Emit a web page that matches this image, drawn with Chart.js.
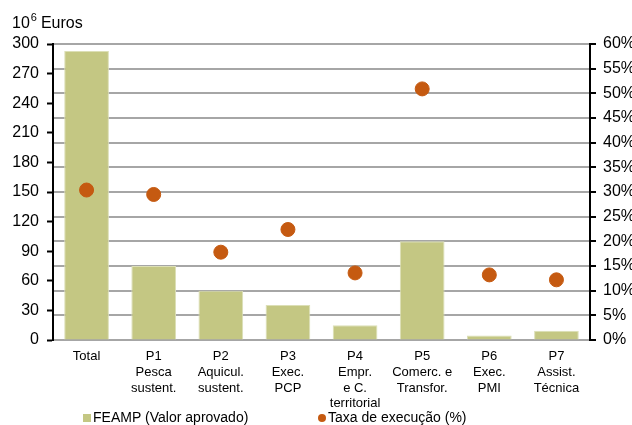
<!DOCTYPE html>
<html>
<head>
<meta charset="utf-8">
<script src="https://cdn.jsdelivr.net/npm/chart.js@4/dist/chart.umd.min.js"></script>
<style>
  html, body { margin: 0; padding: 0; background: #fff; }
  #wrap { width: 632px; height: 425px; }
</style>
</head>
<body>
<div id="wrap"><canvas id="myChart" width="632" height="425"></canvas></div>
<script>
const categories = [
  ['Total'],
  ['P1', 'Pesca', 'sustent.'],
  ['P2', 'Aquicul.', 'sustent.'],
  ['P3', 'Exec.', 'PCP'],
  ['P4', 'Empr.', 'e C.', 'territorial'],
  ['P5', 'Comerc. e', 'Transfor.'],
  ['P6', 'Exec.', 'PMI'],
  ['P7', 'Assist.', 'Técnica']
];
const valorAprovado = [293, 75, 50, 35.5, 15, 100, 4.5, 9.5];
const taxaExecucao = [30.4, 29.5, 17.8, 22.4, 13.6, 50.9, 13.2, 12.2];
const seriesNames = ['FEAMP (Valor aprovado)', 'Taxa de execução (%)'];

const narrow = '"Liberation Sans Narrow", "Arial Narrow", "Liberation Sans", Arial, sans-serif';
const regular = '"Liberation Sans", Arial, sans-serif';
const barColor = '#c4c783';
const dotColor = '#c55a11';

// title with a real superscript and the legend, drawn by hand
const extras = {
  id: 'extras',
  afterDraw(chart) {
    const ctx = chart.ctx;
    ctx.save();
    ctx.fillStyle = '#000';
    ctx.textBaseline = 'alphabetic';
    ctx.font = '16px ' + regular;
    ctx.fillText('10', 12, 28);
    let x = 12 + ctx.measureText('10').width + 1;
    ctx.font = '11px ' + regular;
    ctx.fillText('6', x, 21);
    x += ctx.measureText('6').width + 4;
    ctx.font = '16px ' + regular;
    ctx.fillText('Euros', x, 28);

    const y = 418;
    ctx.font = '14px ' + narrow;
    ctx.textBaseline = 'middle';
    ctx.fillStyle = barColor;
    ctx.fillRect(83, y - 4, 8, 8);
    ctx.fillStyle = '#000';
    ctx.fillText(seriesNames[0], 93, y);
    ctx.fillStyle = dotColor;
    ctx.beginPath();
    ctx.arc(322, y, 4, 0, Math.PI * 2);
    ctx.fill();
    ctx.fillStyle = '#000';
    ctx.fillText(seriesNames[1], 328, y);
    ctx.restore();
  }
};

new Chart(document.getElementById('myChart'), {
  type: 'bar',
  data: {
    labels: categories,
    datasets: [{
      type: 'line',
      label: seriesNames[1],
      data: taxaExecucao,
      yAxisID: 'y1',
      showLine: false,
      pointRadius: 7,
      pointHoverRadius: 7,
      pointBackgroundColor: dotColor,
      pointBorderColor: dotColor,
      order: 0
    }, {
      label: seriesNames[0],
      data: valorAprovado,
      yAxisID: 'y',
      backgroundColor: barColor,
      borderColor: '#dcdfb6',
      borderWidth: 1,
      categoryPercentage: 1,
      barPercentage: 0.666,
      order: 1
    }]
  },
  options: {
    responsive: false,
    animation: false,
    layout: { padding: { left: 12, right: 0, top: 44, bottom: 0 } },
    plugins: {
      legend: { display: false },
      tooltip: { enabled: false },
      title: { display: false }
    },
    scales: {
      x: {
        grid: { display: false, drawTicks: false },
        border: { display: true, color: '#a6a6a6', width: 2 },
        ticks: {
          color: '#000',
          autoSkip: false,
          maxRotation: 0,
          padding: 9,
          font: { family: narrow, size: 13, lineHeight: 1.2 }
        },
        afterFit(scale) { scale.height = 85; }
      },
      y: {
        position: 'left',
        min: 0,
        max: 300,
        grid: { drawOnChartArea: false, tickLength: 6, tickColor: '#000', tickWidth: 2 },
        border: { color: '#000', width: 2 },
        ticks: {
          stepSize: 30,
          color: '#000',
          padding: 8,
          font: { family: regular, size: 16 }
        },
        afterFit(scale) { scale.width = 41; }
      },
      y1: {
        position: 'right',
        min: 0,
        max: 60,
        grid: { drawOnChartArea: true, color: '#a6a6a6', lineWidth: 2, tickLength: 6, tickColor: '#000', tickWidth: 2 },
        border: { color: '#000', width: 2 },
        ticks: {
          stepSize: 5,
          color: '#000',
          padding: 7,
          font: { family: regular, size: 16 },
          callback: function(v) { return v + '%'; }
        },
        afterFit(scale) { scale.width = 42; }
      }
    }
  },
  plugins: [extras]
});
</script>
</body>
</html>
